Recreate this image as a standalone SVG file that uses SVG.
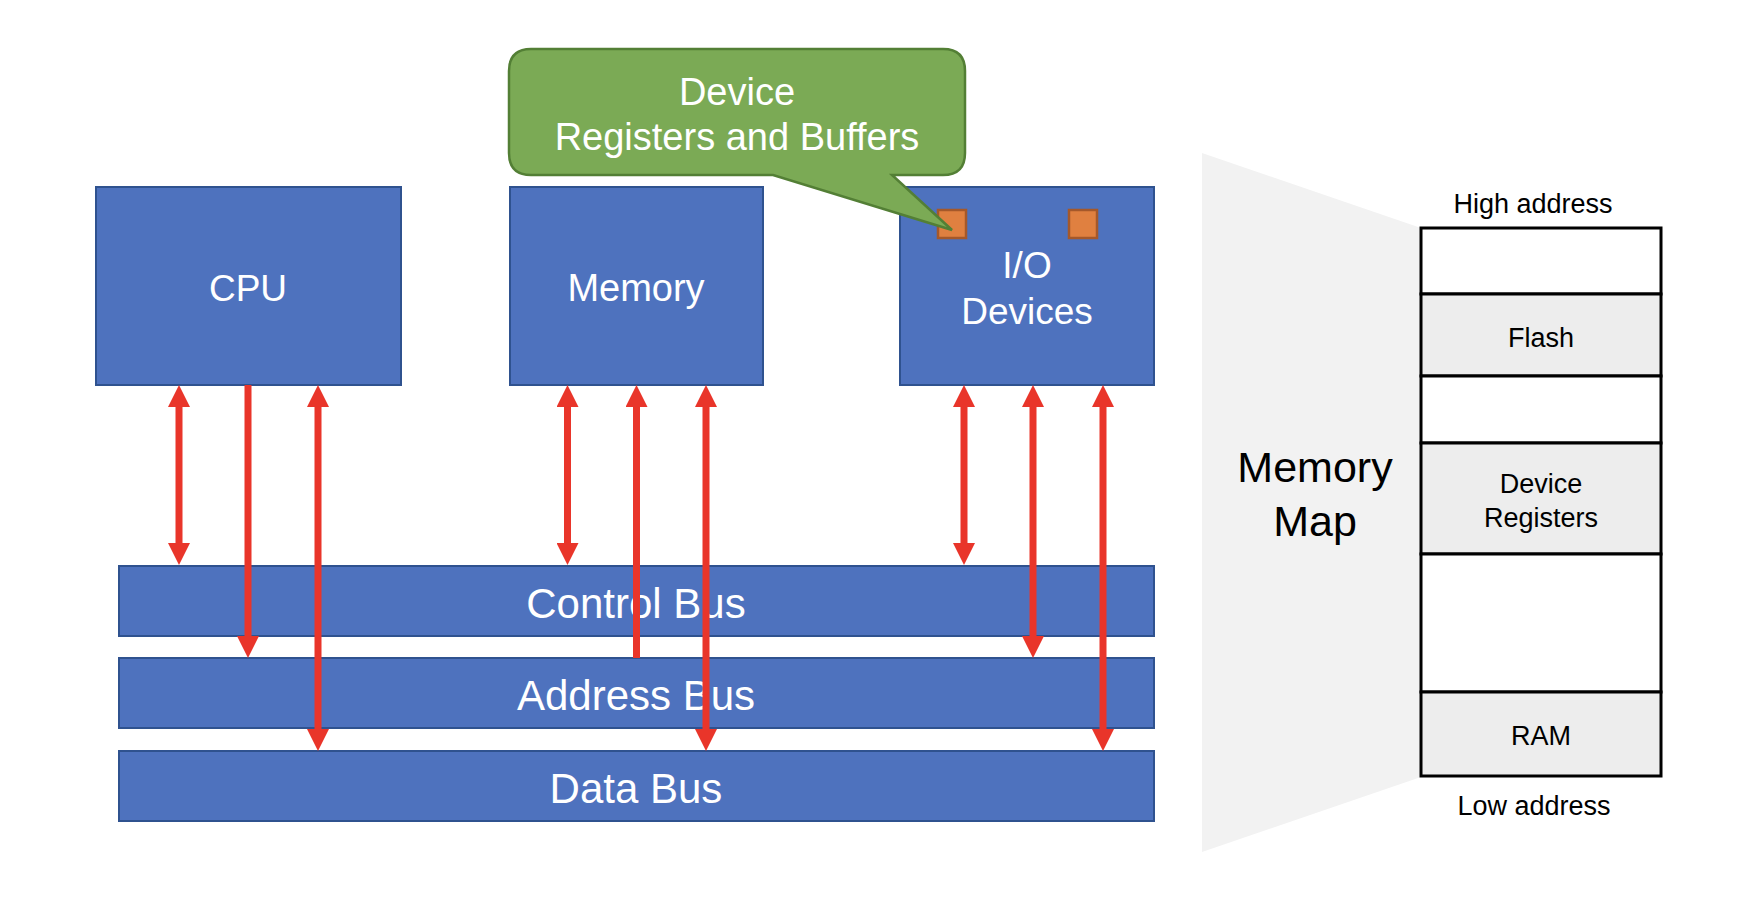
<svg xmlns="http://www.w3.org/2000/svg" width="1737" height="914" viewBox="0 0 1737 914">
  <style>
    .box { fill: #4E72BE; stroke: #2F528F; stroke-width: 2; }
    .wt { fill: #FFFFFF; font-family: "Liberation Sans", Arial, sans-serif; text-anchor: middle; }
    .bt { fill: #000000; font-family: "Liberation Sans", Arial, sans-serif; text-anchor: middle; }
    .reg { fill: #E08040; stroke: #A5582A; stroke-width: 2.5; }
    .arr { stroke: #E9352A; stroke-width: 7; fill: none; }
    .cell { stroke: #000000; stroke-width: 3; }
  </style>
  <defs>
    <marker id="ah" markerUnits="userSpaceOnUse" markerWidth="22" markerHeight="22" viewBox="0 0 22 22" refX="0" refY="11" orient="auto-start-reverse">
      <path d="M0,0 L22,11 L0,22 z" fill="#E9352A"/>
    </marker>
  </defs>

  <rect width="1737" height="914" fill="#FFFFFF"/>

  <!-- Memory map backdrop -->
  <g id="memory-map-backdrop">
    <polygon points="1202,153 1421,228 1421,777 1202,852" fill="#F2F2F2"/>
    <text class="bt" x="1315" y="482" font-size="43">Memory</text>
    <text class="bt" x="1315" y="536" font-size="43">Map</text>
  </g>

  <!-- Buses -->
  <g id="control-bus">
    <rect class="box" x="119" y="566" width="1035" height="70"/>
    <text class="wt" x="636" y="618" font-size="42">Control Bus</text>
  </g>
  <g id="address-bus">
    <rect class="box" x="119" y="658" width="1035" height="70"/>
    <text class="wt" x="636" y="710" font-size="42">Address Bus</text>
  </g>
  <g id="data-bus">
    <rect class="box" x="119" y="751" width="1035" height="70"/>
    <text class="wt" x="636" y="803" font-size="42">Data Bus</text>
  </g>

  <!-- Components -->
  <g id="cpu">
    <rect class="box" x="96" y="187" width="305" height="198"/>
    <text class="wt" x="248" y="301" font-size="37">CPU</text>
  </g>
  <g id="memory">
    <rect class="box" x="510" y="187" width="253" height="198"/>
    <text class="wt" x="636" y="301" font-size="38">Memory</text>
  </g>
  <g id="io-devices">
    <rect class="box" x="900" y="187" width="254" height="198"/>
    <rect class="reg" x="938" y="210" width="28" height="28"/>
    <rect class="reg" x="1069" y="210" width="28" height="28"/>
    <text class="wt" x="1027" y="278" font-size="37">I/O</text>
    <text class="wt" x="1027" y="324" font-size="37">Devices</text>
  </g>

  <!-- Connectors -->
  <g id="connectors">
    <line class="arr" x1="179" y1="407" x2="179" y2="543" marker-start="url(#ah)" marker-end="url(#ah)"/>
    <line class="arr" x1="248" y1="385" x2="248" y2="636" marker-end="url(#ah)"/>
    <line class="arr" x1="318" y1="407" x2="318" y2="729" marker-start="url(#ah)" marker-end="url(#ah)"/>

    <line class="arr" x1="567.5" y1="407" x2="567.5" y2="543" marker-start="url(#ah)" marker-end="url(#ah)"/>
    <line class="arr" x1="636.5" y1="658" x2="636.5" y2="407" marker-end="url(#ah)"/>
    <line class="arr" x1="706" y1="407" x2="706" y2="729" marker-start="url(#ah)" marker-end="url(#ah)"/>

    <line class="arr" x1="964" y1="407" x2="964" y2="543" marker-start="url(#ah)" marker-end="url(#ah)"/>
    <line class="arr" x1="1033" y1="407" x2="1033" y2="636" marker-start="url(#ah)" marker-end="url(#ah)"/>
    <line class="arr" x1="1103" y1="407" x2="1103" y2="729" marker-start="url(#ah)" marker-end="url(#ah)"/>
  </g>

  <!-- Callout -->
  <g id="callout">
    <path d="M531,49 H943 Q965,49 965,71 V153 Q965,175 943,175 H892 L952,230 L773,175 H531 Q509,175 509,153 V71 Q509,49 531,49 Z" fill="#7BAA55" stroke="#537F35" stroke-width="2.5"/>
    <text class="wt" x="737" y="105" font-size="38">Device</text>
    <text class="wt" x="737" y="150" font-size="38">Registers and Buffers</text>
  </g>

  <!-- Memory map -->
  <g id="memory-map">
    <text class="bt" x="1533" y="213" font-size="27">High address</text>
    <rect class="cell" x="1421" y="228" width="240" height="66" fill="#FFFFFF"/>
    <rect class="cell" x="1421" y="294" width="240" height="82" fill="#EDEDED"/>
    <rect class="cell" x="1421" y="376" width="240" height="67" fill="#FFFFFF"/>
    <rect class="cell" x="1421" y="443" width="240" height="111" fill="#EDEDED"/>
    <rect class="cell" x="1421" y="554" width="240" height="138" fill="#FFFFFF"/>
    <rect class="cell" x="1421" y="692" width="240" height="84" fill="#EDEDED"/>
    <text class="bt" x="1541" y="347" font-size="27">Flash</text>
    <text class="bt" x="1541" y="493" font-size="27">Device</text>
    <text class="bt" x="1541" y="527" font-size="27">Registers</text>
    <text class="bt" x="1541" y="745" font-size="27">RAM</text>
    <text class="bt" x="1534" y="815" font-size="27">Low address</text>
  </g>
</svg>
